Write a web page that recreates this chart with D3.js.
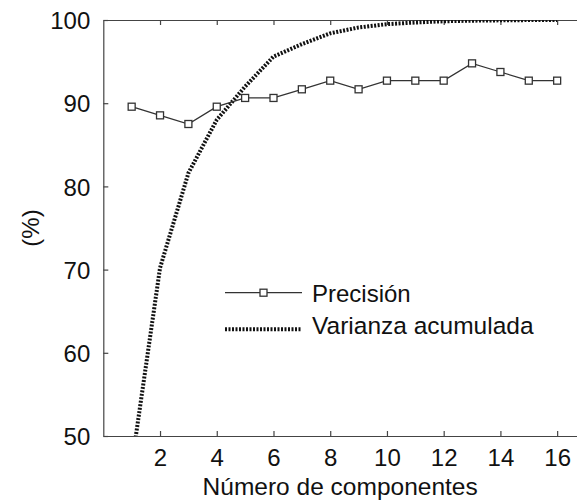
<!DOCTYPE html>
<html>
<head>
<meta charset="utf-8">
<script src="https://cdn.jsdelivr.net/npm/d3@7"></script>
<style>
  html, body { margin: 0; padding: 0; background: #fff; }
  svg { display: block; font-family: "Liberation Sans", Arial, sans-serif; }
</style>
</head>
<body>
<svg id="chart" width="577" height="502"></svg>
<script>
// Number of principal components
const componentes = [1, 2, 3, 4, 5, 6, 7, 8, 9, 10, 11, 12, 13, 14, 15, 16];
// Classification precision (%)
const precision = [89.58, 88.54, 87.5, 89.58, 90.63, 90.63, 91.67, 92.71,
                   91.67, 92.71, 92.71, 92.71, 94.79, 93.75, 92.71, 92.71];
// Cumulative explained variance (%)
const varianza = [46.5, 70.2, 81.6, 88.0, 92.0, 95.6, 97.1, 98.4,
                  99.1, 99.5, 99.7, 99.85, 99.92, 99.96, 99.99, 100];
const xTicks = [2, 4, 6, 8, 10, 12, 14, 16];
const yTicks = [50, 60, 70, 80, 90, 100];
const seriesNames = ["Precisión", "Varianza acumulada"];

const svg = d3.select("#chart");
const mLeft = 103.3, mTop = 20, mBottom = 436, mRight = 577;

const x = d3.scaleLinear().domain([0, 16.7]).range([mLeft, mRight]);
const y = d3.scaleLinear().domain([50, 100]).range([mBottom, mTop]);

const axisColor = "#444";
const fontSize = 24;

// clip region for the plot area
svg.append("defs").append("clipPath").attr("id", "plot-clip")
  .append("rect").attr("x", mLeft).attr("y", mTop)
  .attr("width", mRight - mLeft).attr("height", mBottom - mTop);

// axes: inward ticks on all visible sides
const gBottom = svg.append("g").attr("transform", `translate(0,${mBottom})`)
  .call(d3.axisBottom(x).tickValues(xTicks).tickSizeInner(-5).tickSizeOuter(0).tickPadding(13));
const gTop = svg.append("g").attr("transform", `translate(0,${mTop})`)
  .call(d3.axisTop(x).tickValues(xTicks).tickSizeInner(-5).tickSizeOuter(0).tickFormat(""));
const gLeft = svg.append("g").attr("transform", `translate(${mLeft},0)`)
  .call(d3.axisLeft(y).tickValues(yTicks).tickSizeInner(-5).tickSizeOuter(0).tickPadding(13));

[gBottom, gTop, gLeft].forEach(g => {
  g.select(".domain").attr("stroke", axisColor).attr("stroke-width", 1.2);
  g.selectAll(".tick line").attr("stroke", axisColor).attr("stroke-width", 1.2);
  g.selectAll("text").attr("fill", "#111").style("font-size", fontSize + "px")
    .style("font-family", "'Liberation Sans', Arial, sans-serif");
});
gBottom.selectAll("text").attr("dy", "0.71em");
gLeft.selectAll("text").attr("dy", "0.36em");

// axis titles
svg.append("text")
  .attr("x", (mLeft + mRight) / 2).attr("y", 495)
  .attr("text-anchor", "middle").attr("fill", "#111")
  .style("font-size", "24.5px")
  .text("Número de componentes");

svg.append("text")
  .attr("transform", `translate(39,${(mTop + mBottom) / 2}) rotate(-90)`)
  .attr("text-anchor", "middle").attr("fill", "#111")
  .style("font-size", fontSize + "px")
  .text("(%)");

const plot = svg.append("g").attr("clip-path", "url(#plot-clip)");

// cumulative variance: thick dotted line
const lineVar = d3.line().x((d, i) => x(componentes[i])).y(d => y(d));
plot.append("path").datum(varianza)
  .attr("d", lineVar)
  .attr("fill", "none").attr("stroke", "#111")
  .attr("stroke-width", 4).attr("stroke-dasharray", "2,1.5");

// precision: thin line with square markers
const linePre = d3.line().x((d, i) => x(componentes[i])).y(d => y(d));
plot.append("path").datum(precision)
  .attr("d", linePre)
  .attr("fill", "none").attr("stroke", "#333").attr("stroke-width", 1.3);

const ms = 7;
plot.selectAll("rect.marker").data(precision).join("rect")
  .attr("class", "marker")
  .attr("x", (d, i) => x(componentes[i]) - ms / 2)
  .attr("y", d => y(d) - ms / 2)
  .attr("width", ms).attr("height", ms)
  .attr("fill", "#fff").attr("stroke", "#333").attr("stroke-width", 1.3);

// legend
const lg = svg.append("g");
const lx0 = 225, lx1 = 302, ly0 = 292.7, ly1 = 329.3;
lg.append("line").attr("x1", lx0).attr("x2", lx1).attr("y1", ly0).attr("y2", ly0)
  .attr("stroke", "#333").attr("stroke-width", 1.3);
lg.append("rect").attr("x", (lx0 + lx1) / 2 - ms / 2).attr("y", ly0 - ms / 2)
  .attr("width", ms).attr("height", ms)
  .attr("fill", "#fff").attr("stroke", "#333").attr("stroke-width", 1.3);
lg.append("line").attr("x1", lx0).attr("x2", lx1).attr("y1", ly1).attr("y2", ly1)
  .attr("stroke", "#111").attr("stroke-width", 4).attr("stroke-dasharray", "2,1.5");
lg.append("text").attr("x", 312).attr("y", 301.7).attr("fill", "#111")
  .style("font-size", fontSize + "px").text(seriesNames[0]);
lg.append("text").attr("x", 312).attr("y", 334).attr("fill", "#111")
  .style("font-size", "24.5px").text(seriesNames[1]);
</script>
</body>
</html>
